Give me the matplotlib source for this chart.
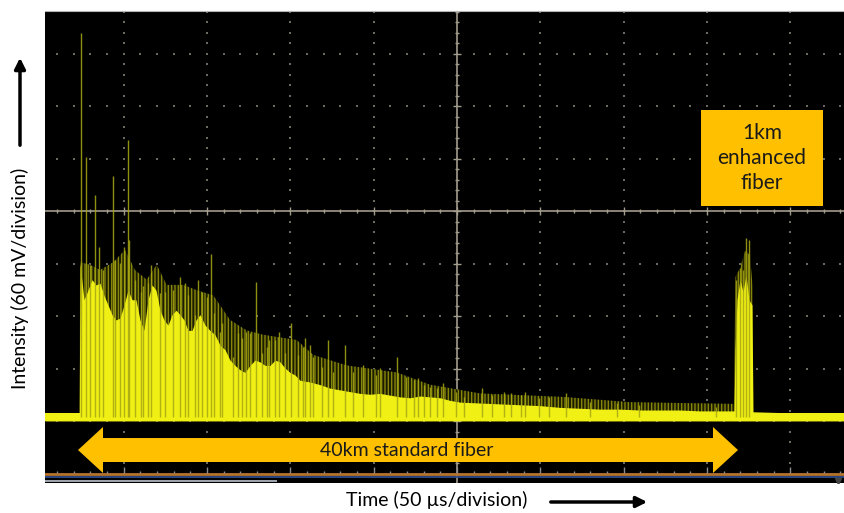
import numpy as np
import matplotlib.pyplot as plt
from matplotlib.patches import Polygon, Rectangle, FancyArrowPatch

plt.rcParams['font.family'] = ['Lato', 'DejaVu Sans']
plt.rcParams['hatch.linewidth'] = 1.0

# scope settings
US_PER_DIV = 50      # time scale
MV_PER_DIV = 60      # intensity scale
T_CENTER = 226.2     # time at the centre graticule (us after pulse launch)
V_CENTER = 235.4     # intensity at the centre graticule (mV above baseline)

# dense part of the backscatter trace (envelope)
body_t = [-21, -0.5, 0, 2.4, 4.8, 7.2, 9.6, 12, 14.4, 16.8, 19.2, 21.6, 24, 26.4,
          28.8, 31.2, 33.6, 36, 38.4, 40.8, 43.2, 45.6, 48, 50.4, 52.8, 55.2, 57.6,
          60, 62.4, 64.8, 67.2, 69.6, 72, 75, 78, 81, 84, 87, 90, 93, 96, 99, 102,
          105, 108, 111, 114, 117, 120, 123, 126, 129, 132, 138, 144, 150, 156, 162,
          168, 174, 180, 186, 192, 198, 204, 210, 216, 222, 228, 240, 252, 264, 276,
          288, 300, 312, 324, 336, 348, 360, 372, 384, 392.4, 393, 394.2, 396, 397.8,
          399.6, 401.4, 403.2, 403.8, 458.4]
body_mv = [0, 0, 176, 134, 145, 157, 151, 153, 139, 128, 117, 111, 113, 128,
           145, 134, 134, 111, 99, 134, 151, 145, 122, 111, 105, 117, 122,
           117, 111, 99, 99, 111, 117, 105, 99, 94, 82, 77, 65, 59, 54, 51, 59,
           65, 63, 59, 59, 65, 63, 56, 51, 48, 42, 40, 37, 33, 31, 29,
           27, 26, 27, 25, 23, 22, 24, 23, 22, 19, 17, 16, 15, 14, 13,
           11, 10, 9, 9, 8, 8, 8, 7, 7, 7, 77, 134, 157, 143,
           162, 134, 128, 6, 3]

# top of the cluster of fainter peaks above the dense part
haze_t = [-0.5, 0, 6, 12, 20, 27, 33, 40, 46, 52, 62, 70, 80, 90, 100, 110,
          130, 140, 160, 190, 210, 240, 290, 330, 392.4, 393.2, 396, 399, 402,
          403.5, 403.9]
haze_mv = [0, 177, 174, 168, 177, 191, 168, 157, 174, 151, 151, 145, 139, 111, 99, 94,
           88, 71, 59, 51, 37, 27, 23, 17, 15, 160, 170, 190, 185,
           150, 6]

# individual peaks standing out of the trace
spike_t = [0.4, 3.4, 6.0, 9.0, 11.4, 13.5, 19.8, 21.0, 24.0, 26.3, 28.7, 29.3, 33.0,
           36.5, 38.0, 40.7, 42.5, 47.9, 50.9, 55.7, 59.9, 62.9, 64.7, 68.9, 70.7,
           73.1, 76.0, 78.4, 80.2, 83.8, 85.0, 91.6, 94.6, 97.0, 99.4, 101.8, 105.4,
           109.0, 112.0, 113.2, 116.8, 119.2, 122.8, 126.3, 130.5, 133.5, 134.7, 137.7,
           139.5, 144.9, 148.5, 151.5, 158.7, 163.5, 170.0, 177.8, 180.0, 190.4, 195.8,
           200.6, 203.0, 206.6, 210.2, 214.4, 217.8, 225.8, 230.5, 241.3, 247.3, 254.5,
           258.7, 264.7, 267.0, 275.4, 281.4, 291.6, 306.0, 322.2, 335.3, 381.4,
           393.4, 395.8, 397.6, 399.4, 401.2]
spike_mv = [439, 297, 174, 254, 194, 168, 275, 179, 176, 194, 317, 202, 157,
            143, 150, 153, 174, 142, 143, 145, 160, 153, 139, 117, 157,
            143, 137, 186, 119, 97, 107, 69, 96, 90, 97, 96, 154,
            73, 80, 88, 88, 97, 73, 107, 71, 80, 90, 82,
            69, 57, 88, 51, 82, 51, 59, 48, 56, 69, 46,
            42, 45, 37, 34, 33, 39, 29, 23, 33, 25, 29,
            27, 25, 29, 22, 23, 27, 17, 16, 14, 11,
            157, 170, 168, 205, 202]

fig = plt.figure(figsize=(8.44, 5.13), dpi=100)
ax = fig.add_axes([45 / 844, 30 / 513, 799 / 844, 472 / 513])
ax.set_facecolor('black')
ax.set_xlim(-21, 458.4)
ax.set_ylim(-75.4, 464)
ax.set_xticks([])
ax.set_yticks([])
for s in ['left', 'right', 'bottom']:
    ax.spines[s].set_visible(False)
ax.spines['top'].set_color('#b4b4b4')

# graticule
grid_col = '#a29c8c'
dot_col = '#6a6a5e'
v_dots = np.arange(-25, 20) * MV_PER_DIV / 5 + V_CENTER
t_dots = np.arange(-24, 24) * US_PER_DIV / 5 + T_CENTER
for k in range(-4, 5):
    if k == 0:
        continue
    t = T_CENTER + k * US_PER_DIV
    ax.scatter(np.full(len(v_dots), t), v_dots, s=1.5, marker='s', color=dot_col, lw=0, zorder=1)
for m in range(-4, 4):
    if m == 0:
        continue
    v = V_CENTER + m * MV_PER_DIV
    ax.scatter(t_dots, np.full(len(t_dots), v), s=1.5, marker='s', color=dot_col, lw=0, zorder=1)
ax.axhline(V_CENTER, color=grid_col, lw=1.2, zorder=1)
ax.axvline(T_CENTER, color=grid_col, lw=1.2, zorder=1)
for i in range(-24, 24):
    h = 4.6 if i % 5 == 0 else 2.3
    ax.vlines(T_CENTER + i * US_PER_DIV / 5, V_CENTER - h, V_CENTER + h, color=grid_col, lw=1, zorder=1)
for j in range(-25, 20):
    w = 2.4 if j % 5 == 0 else 1.2
    ax.hlines(V_CENTER + j * MV_PER_DIV / 5, T_CENTER - w, T_CENTER + w, color=grid_col, lw=1, zorder=1)

# bottom bar of the scope screen
v_bot = V_CENTER - 5 * MV_PER_DIV
ax.axhline(v_bot, color='#b8742c', lw=2, zorder=2)
for i in range(-24, 24):
    h = 7 if i % 5 == 0 else 3.4
    ax.vlines(T_CENTER + i * US_PER_DIV / 5, v_bot + 1, v_bot + h, color='#8c8c8c', lw=1, zorder=2)
ax.axhline(v_bot - 4, color='#2f4c8c', lw=1.3, zorder=2)
ax.fill_between([-21, 118], v_bot - 9.6, v_bot - 7.2, color='#9ea2ac', lw=0, zorder=2)
ax.plot([455], [v_bot - 9], marker='v', color='#444444', ms=5, zorder=2)

# trace
ax.fill_between(haze_t, 0, haze_mv, facecolor='#1c1c00', edgecolor='#85850c',
                hatch='|||||', lw=0, zorder=2.5)
ax.fill_between([-21, 458.4], -4.5, 4.5, color='#f0f014', lw=0, zorder=3)
ax.fill_between(body_t, -4.5, body_mv, color='#f0f014', lw=0, zorder=3)
ax.vlines(spike_t, 0, spike_mv, color='#a8a814', lw=1.0, alpha=0.85, zorder=4)
ax.plot([-20], [0], marker='>', color='#f0f014', ms=5, zorder=4)

# 40 km span arrow
arrow = Polygon([(-1.2, -37.7), (13.8, -11.4), (13.8, -24), (379.8, -24), (379.8, -11.4),
                 (394.8, -37.7), (379.8, -64), (379.8, -51.4), (13.8, -51.4), (13.8, -64)],
                closed=True, color='#ffc000', lw=0, zorder=5)
ax.add_patch(arrow)
ax.text(196, -37.7, '40km standard fiber', ha='center', va='center',
        fontsize=14, color='#1a1a1a', zorder=6)

# enhanced fiber label
ax.add_patch(Rectangle((372.6, 241), 73.2, 110, color='#ffc000', lw=0, zorder=5))
ax.text(409.2, 296, '1km\nenhanced\nfiber', ha='center', va='center',
        fontsize=15, color='#1a1a1a', linespacing=1.3, zorder=6)

# axis labels with arrows
fig.text(20 / 844, 1 - 278 / 513, 'Intensity (60 mV/division)', rotation=90,
         ha='center', va='center', fontsize=14)
fig.add_artist(FancyArrowPatch((20 / 844, 1 - 148 / 513), (20 / 844, 1 - 55 / 513),
                               transform=fig.transFigure, arrowstyle='-|>',
                               mutation_scale=16, lw=2.5, color='black'))
fig.text(437 / 844, 1 - 500 / 513, 'Time (50 \u00b5s/division)',
         ha='center', va='center', fontsize=14)
fig.add_artist(FancyArrowPatch((548 / 844, 1 - 502 / 513), (650 / 844, 1 - 502 / 513),
                               transform=fig.transFigure, arrowstyle='-|>',
                               mutation_scale=16, lw=2.5, color='black'))

fig.savefig('out.png', dpi=100)
